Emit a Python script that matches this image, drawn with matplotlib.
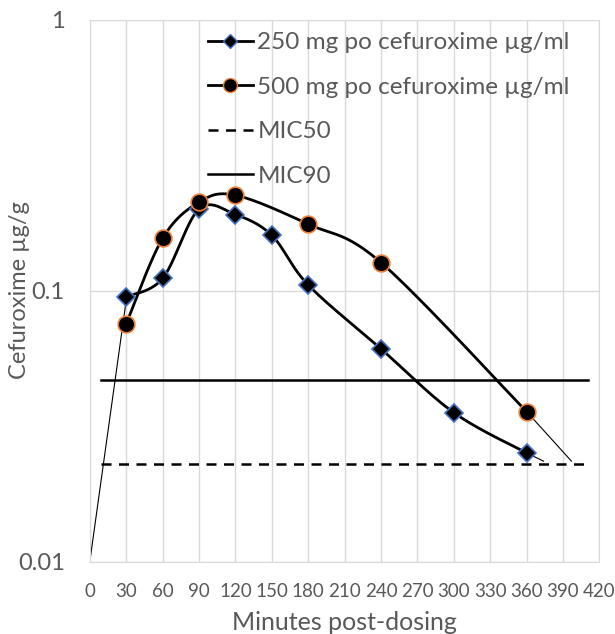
import numpy as np
import matplotlib
matplotlib.use("Agg")
import matplotlib.pyplot as plt
from matplotlib.lines import Line2D

plt.rcParams['font.family'] = ['Lato', 'DejaVu Sans']

minutes = [30, 60, 90, 120, 150, 180, 240, 300, 360]
conc_250 = [0.095, 0.111, 0.200, 0.191, 0.160, 0.105, 0.061, 0.0355, 0.0252]
minutes_500 = [30, 60, 90, 120, 180, 240, 360]
conc_500 = [0.0755, 0.156, 0.212, 0.225, 0.176, 0.127, 0.0358]
mic_x = [9, 411]
mic50 = 0.023
mic90 = 0.047
# thin extrapolation segments
rise_x = [0, 30]
rise_y = [0.01, 0.092]
tail250_x = [360, 374]
tail250_y = [0.0252, 0.0235]
tail500_x = [360, 397]
tail500_y = [0.0358, 0.0235]
xticks = list(range(0, 421, 30))
yticks = [0.01, 0.1, 1]
ytick_labels = ["0.01", "0.1", "1"]

TXT = '#595959'


def smooth(xs, ys, n=40):
    # Excel-like Bezier smoothing in (x, log10 y) space
    P = np.column_stack([np.array(xs, float) / 30.0, np.log10(ys)])
    out = []
    m = len(P)
    for i in range(m - 1):
        p0 = P[i - 1] if i > 0 else P[i]
        p1 = P[i]
        p2 = P[i + 1]
        p3 = P[i + 2] if i + 2 < m else P[i + 1]
        c1 = p1 + (p2 - p0) / 6.0
        c2 = p2 - (p3 - p1) / 6.0
        t = np.linspace(0, 1, n)[:, None]
        seg = ((1 - t) ** 3) * p1 + 3 * ((1 - t) ** 2) * t * c1 + 3 * (1 - t) * t ** 2 * c2 + t ** 3 * p2
        out.append(seg if i == 0 else seg[1:])
    S = np.vstack(out)
    return S[:, 0] * 30.0, 10 ** S[:, 1]


fig = plt.figure(figsize=(6.15, 6.34), dpi=100)
ax = fig.add_axes([0.146, 0.114, 0.8286, 0.855])
ax.set_yscale('log')
ax.set_xlim(0, 420)
ax.set_ylim(0.01, 1)

ax.set_xticks(xticks)
ax.set_xticklabels([str(v) for v in xticks])
ax.set_yticks(yticks)
ax.set_yticklabels(ytick_labels)
ax.yaxis.set_minor_locator(matplotlib.ticker.NullLocator())
ax.grid(True, axis='both', color='#D9D9D9', lw=1)
ax.set_axisbelow(True)
for s in ax.spines.values():
    s.set_color('#D9D9D9')
ax.tick_params(length=0, colors=TXT)
ax.tick_params(axis='x', labelsize=13.5, pad=15)
ax.tick_params(axis='y', labelsize=17, pad=18)

# thin lines
ax.plot(rise_x, rise_y, color='black', lw=0.8, zorder=2)
ax.plot(tail250_x, tail250_y, color='black', lw=0.8, zorder=2)
ax.plot(tail500_x, tail500_y, color='black', lw=0.8, zorder=2)

# MIC lines
ax.plot(mic_x, [mic50, mic50], color='black', lw=1.8, ls=(0, (4, 3)), zorder=3)
ax.plot(mic_x, [mic90, mic90], color='black', lw=1.8, zorder=3)

sx, sy = smooth(minutes, conc_250)
ax.plot(sx, sy, color='black', lw=2, zorder=4)
ax.plot(minutes, conc_250, ls='none', marker='D', ms=9, mfc='black', mec='#4472C4', mew=1.2, zorder=5)
sx, sy = smooth(minutes_500, conc_500)
ax.plot(sx, sy, color='black', lw=2, zorder=4)
ax.plot(minutes_500, conc_500, ls='none', marker='o', ms=12, mfc='black', mec='#ED7D31', mew=1.2, zorder=5)

ax.set_xlabel('Minutes post-dosing', fontsize=18, color=TXT, labelpad=8)
fig.text(20 / 615, 1 - 290 / 634, 'Cefuroxime µg/g', fontsize=17, color=TXT,
         rotation=90, ha='center', va='center')

handles = [
    Line2D([], [], color='black', lw=2, marker='D', ms=7, mfc='black', mec='#4472C4'),
    Line2D([], [], color='black', lw=2, marker='o', ms=10, mfc='black', mec='#ED7D31'),
    Line2D([], [], color='black', lw=1.8, ls=(0, (4, 3))),
    Line2D([], [], color='black', lw=1.8),
]
labels = ['250 mg po cefuroxime µg/ml', '500 mg po cefuroxime µg/ml', 'MIC50', 'MIC90']
leg = ax.legend(handles, labels, loc='upper left', bbox_to_anchor=(0.232, 0.977), frameon=False,
                fontsize=17.5, handlelength=1.85, handletextpad=0.18, labelspacing=0.97,
                borderpad=0, borderaxespad=0, labelcolor=TXT)

fig.savefig('out.png', dpi=100, facecolor='white')
